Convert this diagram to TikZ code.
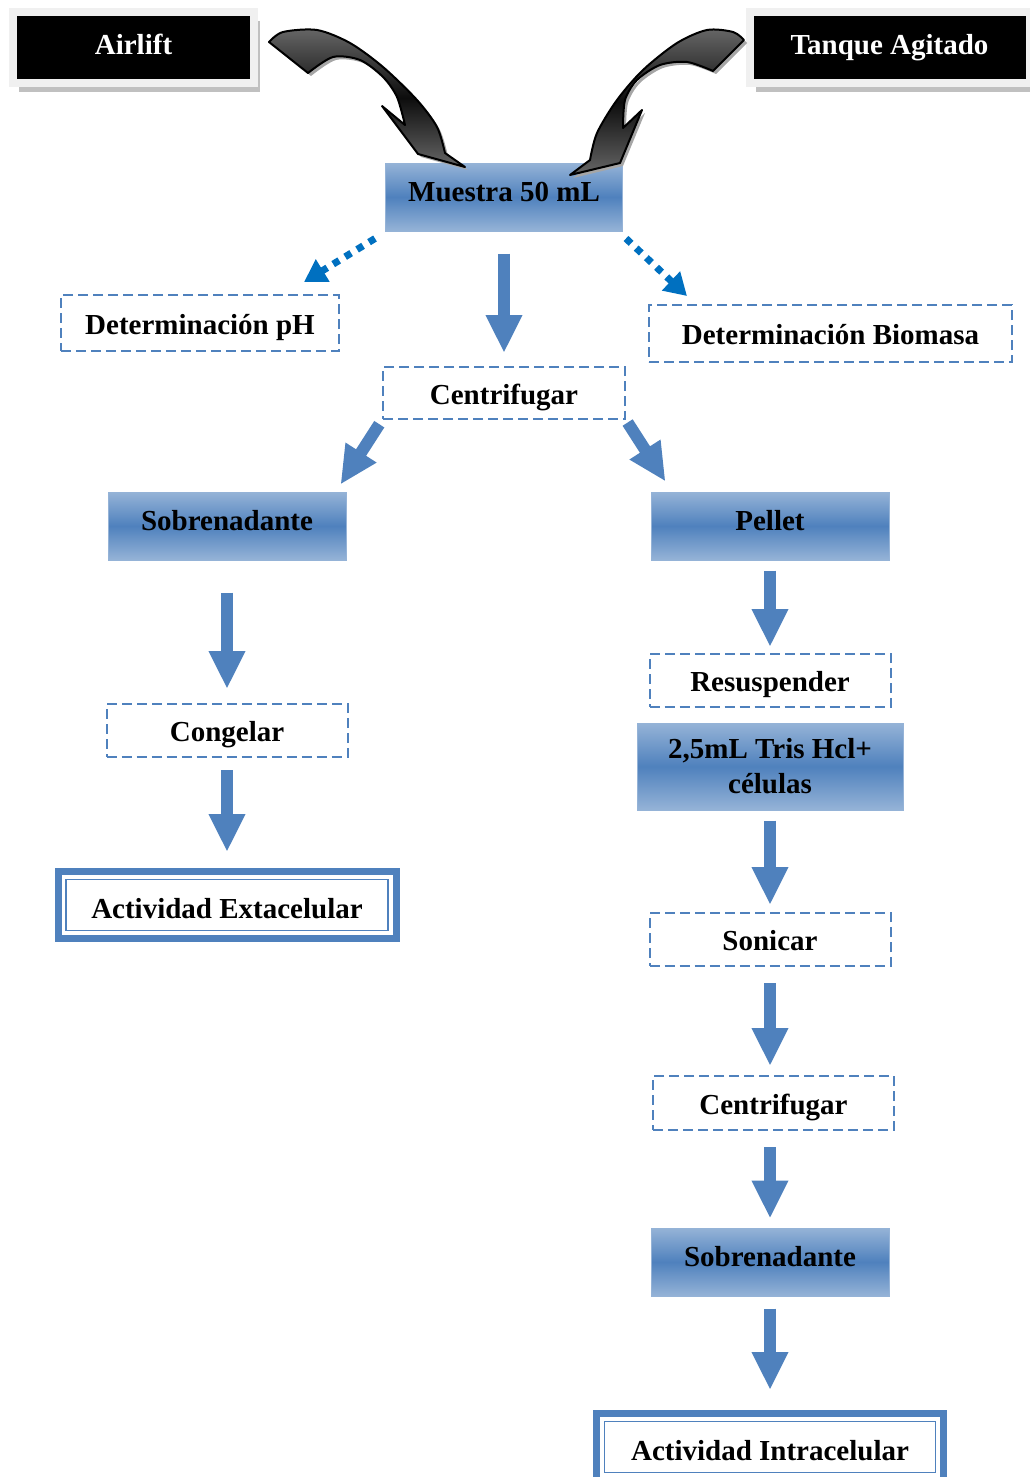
\documentclass[tikz,border=0pt]{standalone}
\usepackage{fontspec}
\setmainfont{Liberation Serif}
\usepackage{tikz}
\usetikzlibrary{positioning,arrows.meta,shadows}
\definecolor{boxblue}{HTML}{4F81BD}
\definecolor{boxlight}{HTML}{95B3D7}
\definecolor{dotblue}{HTML}{0070C0}
\definecolor{framegray}{HTML}{F0F0F0}
\definecolor{shadowgray}{HTML}{C0C0C0}
\tikzset{
  lbl/.style={inner sep=0pt,text height=20pt,text depth=6pt},
  srcbox/.style={lbl,fill=black,draw=framegray,line width=8pt,text=white,minimum height=71pt,
    drop shadow={shadow xshift=6pt,shadow yshift=-9pt,fill=shadowgray,opacity=1}},
  gradbox/.style={lbl,text height=17pt,text depth=9pt,top color=boxlight,bottom color=boxlight,middle color=boxblue,
    draw=boxlight,line width=1pt,minimum width=238pt,minimum height=68pt},
  dashbox/.style={lbl,text height=24pt,text depth=2pt,draw=boxblue,line width=2pt,dash pattern=on 10pt off 5pt,minimum height=53pt},
  resultbox/.style={lbl,text height=26pt,text depth=0pt,draw=boxblue,line width=7pt,minimum height=67pt,
    path picture={\draw[boxblue,line width=1.5pt]
      ([shift={(8pt,-8pt)}]path picture bounding box.north west) rectangle
      ([shift={(-8pt,8pt)}]path picture bounding box.south east);}},
  blockarrow/.style={draw=boxblue,line width=12pt,-{Triangle[width=34pt,length=38pt]}},
  dotarrow/.style={draw=dotblue,line width=7pt,dash pattern=on 7pt off 7pt,-{Triangle[width=25pt,length=22pt]}},
  bentarrow/.style={draw=black,line width=2pt,line join=round,
    top color=black!60,bottom color=black!60,middle color=black!95,
    drop shadow={shadow xshift=3pt,shadow yshift=-3pt,fill=gray!70,opacity=1}},
}

\begin{document}
\begin{tikzpicture}[x=1pt,y=1pt,font=\fontsize{29}{35}\selectfont\bfseries]
\useasboundingbox (0,0) rectangle (1030,-1477);

% reactors
\node[srcbox,minimum width=241pt] (airlift) at (133.5,-47.5) {Airlift};
\node[srcbox,minimum width=280pt] (tanque) at (889.5,-47.5) {Tanque Agitado};

\node[gradbox,minimum width=237pt] (muestra) at (504,-197) {Muestra 50 mL};
\node[dashbox,minimum width=278pt,minimum height=56pt] (ph) at (200,-323) {Determinación pH};
\node[dashbox,minimum width=363pt,minimum height=57pt] (biomasa) at (830.5,-333.5) {Determinación Biomasa};
\node[dashbox,minimum width=242pt,minimum height=52pt] (centrA) at (504,-393) {Centrifugar};

% left branch
\node[gradbox] (sobreA) at (227,-526) {Sobrenadante};
\node[dashbox,minimum width=241pt] (congelar) at (227,-730.5) {Congelar};
\node[resultbox,minimum width=338pt] (extra) at (227,-905) {Actividad Extacelular};

% right branch
\node[gradbox] (pellet) at (770,-526) {Pellet};
\node[dashbox,minimum width=241pt] (resusp) at (770,-680.5) {Resuspender};
\node[gradbox,minimum width=266pt,minimum height=87pt,align=center,text height=60pt,text depth=7pt] (tris) at (770,-766.5) {2,5mL Tris Hcl+\\células};
\node[dashbox,minimum width=241pt] (sonicar) at (770,-939.5) {Sonicar};
\node[dashbox,minimum width=241pt,minimum height=54pt] (centrB) at (773.5,-1103) {Centrifugar};
\node[gradbox] (sobreB) at (770,-1262) {Sobrenadante};
\node[resultbox,minimum width=347pt] (intra) at (770,-1447) {Actividad Intracelular};

% curved arrows
\path[bentarrow] plot[smooth] coordinates {(269,-42) (283,-32) (317,-30) (350,-43) (383,-67) (417,-100) (437,-127) (445,-153)}
  -- (465,-167) -- (418,-154) -- (382,-106) -- (405,-125)
  -- plot[smooth] coordinates {(405,-125) (397,-97) (383,-77) (360,-60) (333,-57) (308,-73)} -- cycle;
\path[bentarrow] plot[smooth] coordinates {(744,-40) (733,-32) (707,-30) (677,-43) (643,-70) (617,-100) (597,-133) (590,-160)}
  -- (570,-175) -- (620,-163) -- (642,-110) -- (623,-128)
  -- plot[smooth] coordinates {(623,-128) (625,-100) (637,-80) (660,-65) (687,-62) (713,-71)} -- cycle;

\path
([shift={(-10pt,-7pt)}]muestra.south west) edge[dotarrow] ([shift={(-36pt,12pt)}]ph.north east)
([shift={(3pt,-7pt)}]muestra.south east) edge[dotarrow] ([shift={(39pt,8pt)}]biomasa.north west)
(muestra) edge[blockarrow,shorten <=22pt,shorten >=13pt] (centrA)
(centrA.south west) edge[blockarrow,shorten <=5pt] ([shift={(-6pt,7pt)}]sobreA.north east)
(centrA.south east) edge[blockarrow,shorten <=3pt] ([shift={(15pt,10pt)}]pellet.north west)
(sobreA) edge[blockarrow,shorten <=32pt,shorten >=14pt] (congelar)
(congelar) edge[blockarrow,shorten <=12pt,shorten >=16pt] (extra)
(pellet) edge[blockarrow,shorten <=10pt,shorten >=6pt] (resusp)
(tris) edge[blockarrow,shorten <=10pt,shorten >=7pt] (sonicar)
(sonicar) edge[blockarrow,shorten <=16pt,shorten >=9pt] (sonicar |- centrB.north)
(centrB.south -| sobreB) edge[blockarrow,shorten <=16pt,shorten >=9pt] (sobreB)
(sobreB) edge[blockarrow,shorten <=12pt,shorten >=20pt] (intra);

\end{tikzpicture}
\end{document}
